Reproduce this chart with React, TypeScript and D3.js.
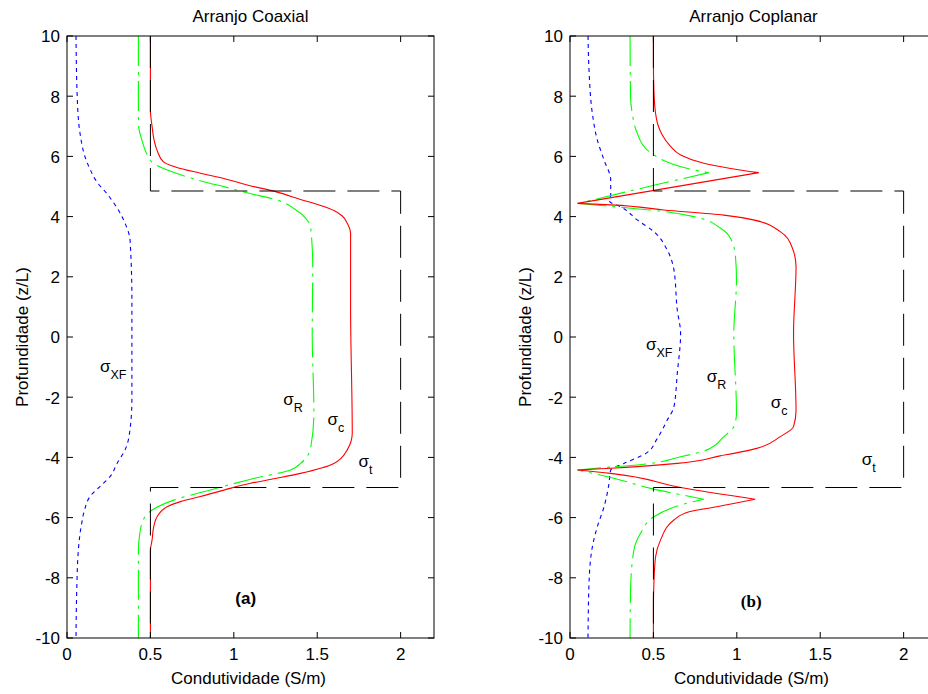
import { useRef, useEffect } from "react";
import * as d3 from "d3";

type Pt = [number, number]; // [condutividade, profundidade]

const xTicks = [0, 0.5, 1, 1.5, 2];
const yTicks = [-10, -8, -6, -4, -2, 0, 2, 4, 6, 8, 10];
const xTickLabels = ["0", "0.5", "1", "1.5", "2"];

// perfil verdadeiro (igual nos dois arranjos)
const sigmaT: Pt[] = [
	[0.5, 10], [0.5, 4.85], [2, 4.85], [2, -5], [0.5, -5], [0.5, -10],
];

// ---- Arranjo coaxial ----
const coaxXF: Pt[] = [
	[0.054, 10], [0.062, 7.87], [0.078, 6.77], [0.108, 5.99], [0.14, 5.55], [0.178, 5.16],
	[0.238, 4.77], [0.268, 4.55], [0.31, 4.2], [0.348, 3.78], [0.378, 3.22], [0.389, 1.23],
	[0.389, -2.09], [0.372, -3.3], [0.348, -3.75], [0.3, -4.2], [0.258, -4.64], [0.2, -4.95],
	[0.138, -5.3], [0.105, -5.75], [0.088, -6.19], [0.068, -7.08], [0.058, -8.5], [0.054, -10],
];
const coaxR: Pt[] = [
	[0.428, 10], [0.428, 7.1], [0.449, 6.54], [0.488, 5.99], [0.518, 5.77], [0.65, 5.45],
	[0.82, 5.16], [0.95, 4.98], [1.08, 4.79], [1.26, 4.55], [1.36, 4.27], [1.43, 3.95],
	[1.46, 3.66], [1.473, 2.34], [1.47, 0.13], [1.48, -2.53], [1.46, -3.7], [1.45, -3.87],
	[1.4, -4.2], [1.34, -4.42], [1.12, -4.7], [0.86, -5.08], [0.64, -5.42], [0.51, -5.75],
	[0.449, -6.19], [0.435, -6.6], [0.428, -7.08], [0.428, -10],
];
const coaxC: Pt[] = [
	[0.5, 10], [0.5, 7.5], [0.505, 7.2], [0.51, 7.0], [0.52, 6.6], [0.54, 6.2], [0.578, 5.82],
	[0.65, 5.65], [0.8, 5.44], [0.95, 5.25], [1.08, 5.05], [1.25, 4.83], [1.4, 4.57],
	[1.53, 4.35], [1.6, 4.2], [1.65, 4.02], [1.68, 3.78], [1.7, 3.44], [1.7, 1.0], [1.71, -3.2],
	[1.68, -3.75], [1.6, -4.2], [1.4, -4.53], [1.25, -4.7], [1.1, -4.86], [0.95, -5.07],
	[0.8, -5.3], [0.68, -5.47], [0.6, -5.64], [0.54, -5.97], [0.52, -6.3], [0.51, -6.74],
	[0.5, -7.1], [0.5, -10],
];

// ---- Arranjo coplanar ----
const copXF: Pt[] = [
	[0.108, 10], [0.114, 8.87], [0.134, 7.43], [0.164, 6.54], [0.204, 5.88], [0.244, 5.22],
	[0.244, 4.72], [0.238, 4.5], [0.303, 4.33], [0.403, 3.89], [0.503, 3.5], [0.583, 2.89],
	[0.623, 2.23], [0.643, 0.9], [0.663, 0.12], [0.643, -1.21], [0.623, -2.32], [0.583, -2.76],
	[0.52, -3.4], [0.46, -3.85], [0.323, -4.2], [0.244, -4.42], [0.234, -4.86], [0.204, -5.64],
	[0.164, -6.3], [0.134, -6.97], [0.114, -8.18], [0.108, -10],
];
const copR: Pt[] = [
	[0.36, 10], [0.363, 7.98], [0.373, 7.43], [0.403, 6.77], [0.453, 6.27], [0.503, 6.05],
	[0.603, 5.77], [0.743, 5.55], [0.832, 5.46], [0.643, 5.22], [0.503, 5.04], [0.054, 4.44],
	[0.263, 4.33], [0.483, 4.22], [0.743, 4.0], [0.903, 3.61], [0.962, 3.28], [0.992, 2.67],
	[0.998, 1.89], [0.982, 0.12], [0.998, -2.53], [0.982, -2.98], [0.922, -3.31], [0.82, -3.75],
	[0.663, -3.98], [0.403, -4.25], [0.223, -4.33], [0.044, -4.42], [0.263, -4.69], [0.483, -5.03],
	[0.72, -5.3], [0.802, -5.39], [0.663, -5.58], [0.503, -5.97], [0.423, -6.52], [0.383, -7.08],
	[0.363, -8.4], [0.36, -10],
];
const copC: Pt[] = [
	[0.5, 10], [0.5, 9.15], [0.503, 8.2], [0.513, 7.43], [0.53, 7.0], [0.553, 6.71], [0.6, 6.35],
	[0.663, 6.05], [0.802, 5.77], [0.962, 5.6], [1.132, 5.46], [0.044, 4.44], [0.244, 4.39],
	[0.563, 4.22], [0.922, 4.05], [1.1, 3.89], [1.26, 3.5], [1.33, 3.0], [1.355, 2.34],
	[1.34, 0.12], [1.355, -2.43], [1.34, -2.98], [1.26, -3.31], [1.12, -3.7], [0.9, -3.95],
	[0.643, -4.2], [0.244, -4.36], [0.044, -4.42], [0.244, -4.53], [0.663, -5.0], [1.11, -5.39],
	[0.88, -5.64], [0.72, -5.8], [0.623, -6.08], [0.543, -6.74], [0.513, -7.3], [0.503, -8.17],
	[0.5, -9.0], [0.5, -10],
];

// rótulos das curvas: [x, z, símbolo, subscrito]
const coaxNotes: [number, number, string, string][] = [
	[0.198, -1.16, "σ", "XF"],
	[1.297, -2.26, "σ", "R"],
	[1.562, -2.92, "σ", "c"],
	[1.748, -4.32, "σ", "t"],
];
const copNotes: [number, number, string, string][] = [
	[0.455, -0.43, "σ", "XF"],
	[0.82, -1.5, "σ", "R"],
	[1.204, -2.36, "σ", "c"],
	[1.749, -4.25, "σ", "t"],
];

const FONT = "'Liberation Sans', Arial, Helvetica, sans-serif";

// quebra a curva nos "bicos" (extremos agudos em x) para suavizar só o resto
function splitAtSpikes(pts: Pt[]): Pt[][] {
	const pieces: Pt[][] = [];
	let cur: Pt[] = [pts[0]];
	for (let i = 1; i < pts.length; i++) {
		cur.push(pts[i]);
		if (i < pts.length - 1) {
			const a = pts[i - 1], b = pts[i], c = pts[i + 1];
			const d1 = b[0] - a[0], d2 = c[0] - b[0];
			const s1 = Math.abs(d1 / (b[1] - a[1]));
			const s2 = Math.abs(d2 / (c[1] - b[1]));
			if (d1 * d2 < 0 && s1 > 0.5 && s2 > 0.5) {
				pieces.push(cur);
				cur = [pts[i]];
			}
		}
	}
	pieces.push(cur);
	return pieces;
}

export default function App() {
	const ref = useRef<HTMLDivElement>(null);

	useEffect(() => {
		document.body.style.margin = "0";
		const width = 928;
		const height = 694;
		const top = 36;
		const pw = 367;
		const ph = 602;

		d3.select(ref.current).selectAll("*").remove();
		const svg = d3
			.select(ref.current)
			.append("svg")
			.attr("width", width)
			.attr("height", height)
			.style("display", "block")
			.style("background", "#fff");

		const x = d3.scaleLinear().domain([0, 2.2]).range([0, pw]);
		const y = d3.scaleLinear().domain([-10, 10]).range([ph, 0]);
		const smooth = d3
			.line<Pt>()
			.x((d) => x(d[0]))
			.y((d) => y(d[1]))
			.curve(d3.curveMonotoneY);
		const straight = d3
			.line<Pt>()
			.x((d) => x(d[0]))
			.y((d) => y(d[1]));
		const curvePath = (pts: Pt[]) =>
			splitAtSpikes(pts)
				.map((piece, i) => {
					const d = smooth(piece) || "";
					return i === 0 ? d : d.replace(/^M/, "L");
				})
				.join("");

		const panels = [
			{ left: 67, title: "Arranjo Coaxial", xf: coaxXF, r: coaxR, c: coaxC, notes: coaxNotes,
				tag: "(a)", tagAt: [1.009, -8.87], tagFont: FONT },
			{ left: 570, title: "Arranjo Coplanar", xf: copXF, r: copR, c: copC, notes: copNotes,
				tag: "(b)", tagAt: [1.024, -8.97], tagFont: "'Liberation Serif', 'Times New Roman', serif" },
		];

		panels.forEach((p) => {
			const g = svg.append("g").attr("transform", `translate(${p.left},${top})`);

			// ---- curvas ----
			g.append("path").attr("d", curvePath(p.xf)).attr("fill", "none")
				.attr("stroke", "#0000ff").attr("stroke-width", 1.1).attr("stroke-dasharray", "4,4");
			g.append("path").attr("d", curvePath(p.r)).attr("fill", "none")
				.attr("stroke", "#00ff00").attr("stroke-width", 1.1).attr("stroke-dasharray", "30,6,3,6");
			g.append("path").attr("d", curvePath(p.c)).attr("fill", "none")
				.attr("stroke", "#ff0000").attr("stroke-width", 1.1);
			g.append("path").attr("d", straight(sigmaT)).attr("fill", "none")
				.attr("stroke", "#000").attr("stroke-width", 1).attr("stroke-dasharray", "32,12");

			// ---- caixa e ticks ----
			g.append("rect").attr("width", pw).attr("height", ph)
				.attr("fill", "none").attr("stroke", "#000").attr("stroke-width", 1);

			const tl = 6;
			xTicks.forEach((t, i) => {
				g.append("line").attr("x1", x(t)).attr("x2", x(t)).attr("y1", ph).attr("y2", ph - tl).attr("stroke", "#000");
				g.append("line").attr("x1", x(t)).attr("x2", x(t)).attr("y1", 0).attr("y2", tl).attr("stroke", "#000");
				g.append("text").attr("x", x(t)).attr("y", ph + 22).attr("text-anchor", "middle")
					.attr("font-family", FONT).attr("font-size", 17).text(xTickLabels[i]);
			});
			yTicks.forEach((t) => {
				g.append("line").attr("x1", 0).attr("x2", tl).attr("y1", y(t)).attr("y2", y(t)).attr("stroke", "#000");
				g.append("line").attr("x1", pw).attr("x2", pw - tl).attr("y1", y(t)).attr("y2", y(t)).attr("stroke", "#000");
				g.append("text").attr("x", -7).attr("y", y(t) + 6.3).attr("text-anchor", "end")
					.attr("font-family", FONT).attr("font-size", 17).text(String(t));
			});

			// ---- títulos e eixos ----
			g.append("text").attr("x", pw / 2).attr("y", 21.5 - top).attr("text-anchor", "middle")
				.attr("font-family", FONT).attr("font-size", 17).text(p.title);
			g.append("text").attr("x", pw / 2 - 2).attr("y", ph + 46).attr("text-anchor", "middle")
				.attr("font-family", FONT).attr("font-size", 17).text("Condutividade (S/m)");
			g.append("text").attr("transform", `translate(-39.5,${ph / 2}) rotate(-90)`)
				.attr("text-anchor", "middle").attr("font-family", FONT).attr("font-size", 17)
				.text("Profundidade (z/L)");

			// ---- rótulos ----
			p.notes.forEach(([nx, nz, s, sub]) => {
				const t = g.append("text").attr("x", x(nx)).attr("y", y(nz))
					.attr("font-family", FONT).attr("font-size", 17);
				t.append("tspan").text(s);
				t.append("tspan").attr("dy", 7).attr("font-size", 12.5).text(sub);
			});
			g.append("text").attr("x", x(p.tagAt[0])).attr("y", y(p.tagAt[1]))
				.attr("font-family", p.tagFont).attr("font-weight", "bold").attr("font-size", 17)
				.text(p.tag);
		});
	}, []);

	return <div ref={ref} />;
}
